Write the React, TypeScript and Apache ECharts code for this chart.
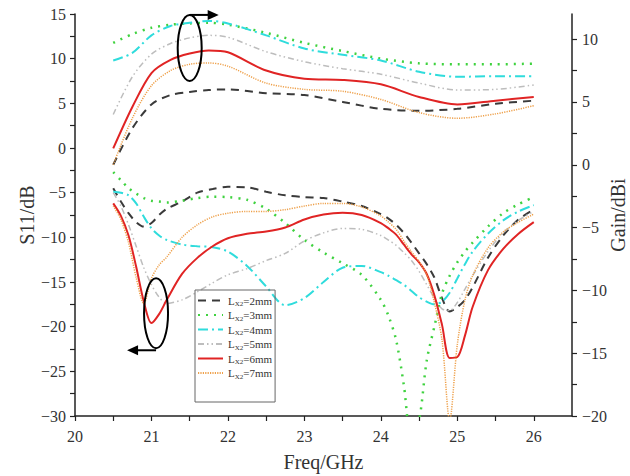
import React, { useEffect, useRef } from 'react';
import * as echarts from 'echarts';

// Legend labels (L_X2 values)
const lengths = ['2mm', '3mm', '4mm', '5mm', '6mm', '7mm'];

// Gain (right axis, dBi)
const gainFreq = [20.5, 20.75, 21, 21.25, 21.5, 21.75, 22, 22.5, 23, 23.5, 24, 24.5, 25, 25.5, 26];
const gain2mm = [0.0, 2.9, 4.8, 5.55, 5.8, 5.95, 6.0, 5.7, 5.55, 5.0, 4.45, 4.3, 4.45, 4.85, 5.1];
const gain3mm = [9.7, 10.4, 10.9, 11.15, 11.25, 11.3, 11.15, 10.5, 9.7, 9.05, 8.45, 8.07, 8.0, 8.0, 8.05];
const gain4mm = [8.3, 8.9, 10.3, 11.05, 11.3, 11.45, 11.25, 10.3, 9.25, 8.75, 8.3, 7.4, 7.0, 7.05, 7.05];
const gain5mm = [4.0, 7.0, 8.8, 9.65, 10.1, 10.3, 10.15, 9.0, 8.2, 7.65, 7.2, 6.5, 5.95, 6.0, 6.35];
const gain6mm = [1.3, 4.6, 7.3, 8.35, 8.85, 9.1, 8.95, 7.5, 6.85, 6.75, 6.4, 5.4, 4.8, 5.1, 5.4];
const gain7mm = [0.0, 3.7, 6.3, 7.5, 8.0, 8.1, 7.85, 6.5, 6.0, 5.85, 5.2, 4.15, 3.7, 4.05, 4.7];

// S11 (left axis, dB)
const s11Freq = [20.5, 20.6, 20.7, 20.8, 20.9, 21.0, 21.1, 21.2, 21.4, 21.6, 21.8, 22.0, 22.25, 22.5, 22.75, 23.0, 23.25, 23.5, 23.75, 24.0, 24.1, 24.2, 24.3, 24.4, 24.5, 24.6, 24.7, 24.8, 24.9, 25.0, 25.1, 25.2, 25.4, 25.6, 25.8, 26.0];
const s11_2mm = [-4.5, -6.0, -7.3, -8.3, -8.8, -8.4, -7.5, -6.8, -6.0, -5.0, -4.6, -4.35, -4.4, -4.9, -5.3, -5.5, -5.6, -6.0, -6.5, -7.4, -7.9, -8.6, -9.5, -10.6, -11.8, -13.0, -14.5, -16.8, -18.3, -17.8, -17.0, -15.6, -12.3, -9.8, -8.0, -6.9];
const s11_3mm = [-2.7, -3.6, -4.5, -5.1, -5.6, -5.9, -6.0, -6.1, -5.9, -5.6, -5.45, -5.5, -5.8, -6.8, -8.4, -10.3, -11.7, -12.9, -14.2, -17.0, -18.8, -21.5, -26.5, -32.5, -30.5, -23.8, -20.0, -16.3, -14.3, -12.8, -11.6, -10.6, -8.8, -7.3, -6.3, -5.5];
const s11_4mm = [-4.9, -5.0, -5.3, -6.2, -7.7, -9.0, -9.8, -10.3, -10.8, -11.0, -11.1, -11.6, -13.2, -15.5, -17.6, -16.8, -15.0, -13.4, -13.2, -13.9, -14.3, -14.8, -15.3, -16.0, -16.7, -17.2, -17.5, -17.2, -16.2, -14.6, -13.0, -11.6, -9.6, -8.1, -7.1, -6.4];
const s11_5mm = [-5.0, -6.5, -8.6, -11.0, -13.4, -15.3, -16.7, -17.4, -17.0, -16.1, -15.1, -14.2, -13.5, -12.6, -11.8, -10.4, -9.5, -9.0, -9.1, -9.8, -10.3, -10.9, -11.7, -12.6, -13.8, -15.3, -16.8, -18.0, -18.2, -17.3, -15.8, -14.3, -11.6, -9.5, -8.1, -7.1];
const s11_6mm = [-6.2, -7.6, -9.8, -13.3, -17.2, -19.6, -18.6, -17.0, -14.1, -12.3, -11.0, -10.1, -9.6, -9.35, -8.9, -8.0, -7.45, -7.25, -7.5, -8.4, -9.0, -9.7, -10.8, -11.9, -12.8, -14.1, -16.5, -19.8, -23.5, -23.4, -21.0, -17.8, -13.7, -11.3, -9.6, -8.3];
const s11_7mm = [-6.5, -8.0, -10.6, -14.5, -17.4, -14.6, -13.1, -12.2, -10.0, -8.6, -7.7, -7.3, -7.1, -7.1, -6.9, -6.5, -6.2, -6.2, -6.6, -7.6, -8.3, -9.1, -10.4, -11.6, -12.7, -14.2, -17.3, -21.5, -30.5, -22.0, -17.0, -14.3, -11.2, -9.4, -8.3, -7.4];

const gainSets = [gain2mm, gain3mm, gain4mm, gain5mm, gain6mm, gain7mm];
const s11Sets = [s11_2mm, s11_3mm, s11_4mm, s11_5mm, s11_6mm, s11_7mm];

// Axis tick values
const leftLabels = [-30, -25, -20, -15, -10, -5, 0, 5, 10, 15];
const rightLabels = [-20, -15, -10, -5, 0, 5, 10];
const rightTicks = [-20, -17.5, -15, -12.5, -10, -7.5, -5, -2.5, 0, 2.5, 5, 7.5, 10];

const lineStyles = [
  { color: '#3a3a3a', width: 2, type: [8, 6] },
  { color: '#3fd23f', width: 2.5, type: [2, 6] },
  { color: '#2fdcdc', width: 2, type: [10, 4, 2, 4] },
  { color: '#bdbdbd', width: 1.5, type: [6, 3, 1.5, 3, 1.5, 3] },
  { color: '#e02424', width: 2, type: 'solid' },
  { color: '#eea04a', width: 1.5, type: [1.2, 1.2] },
];

const SERIF = '"Liberation Serif", "DejaVu Serif", serif';
const minus = (v: number) => (v < 0 ? '\u2212' + Math.abs(v) : String(v));

export default function App() {
  const ref = useRef<HTMLDivElement>(null);
  useEffect(() => {
    if (!ref.current) return;
    const chart = echarts.init(ref.current, undefined, { renderer: 'svg' });
    const series: any[] = [];
    lengths.forEach((len, i) => {
      const name = 'LX2=' + len;
      series.push({
        name, type: 'line', xAxisIndex: 0, yAxisIndex: 0, smooth: 0.3,
        symbol: 'none', showSymbol: false, clip: true,
        itemStyle: { color: lineStyles[i].color, opacity: 0 },
        lineStyle: lineStyles[i],
        data: s11Freq.map((f, j) => [f, s11Sets[i][j]]),
      });
      series.push({
        name, type: 'line', xAxisIndex: 0, yAxisIndex: 1, smooth: 0.3,
        symbol: 'none', showSymbol: false, clip: true,
        itemStyle: { color: lineStyles[i].color, opacity: 0 },
        lineStyle: lineStyles[i],
        data: gainFreq.map((f, j) => [f, gainSets[i][j]]),
      });
    });
    const axisLine = { show: true, onZero: false, lineStyle: { color: '#222', width: 1.5 } };
    chart.setOption({
      animation: false,
      backgroundColor: '#fff',
      grid: { left: 75, right: 58, top: 14, bottom: 60, containLabel: false, outerBoundsMode: 'none' },
      legend: {
        orient: 'vertical', left: 195, top: 290,
        padding: [5, 3, 22, 2], itemGap: 2, itemWidth: 25, itemHeight: 10,
        borderColor: '#666', borderWidth: 1,
        itemStyle: { opacity: 0 },
        data: lengths.map((l) => 'LX2=' + l),
        formatter: (n: string) => '{l|L}{s|X2}{l|' + n.slice(3) + '}',
        textStyle: {
          fontFamily: SERIF, fontSize: 11, color: '#333',
          rich: {
            l: { fontFamily: SERIF, fontSize: 11, lineHeight: 14, color: '#333' },
            s: { fontFamily: SERIF, fontSize: 7, lineHeight: 8, verticalAlign: 'bottom', color: '#333' },
          },
        },
      },
      xAxis: {
        type: 'value', min: 20, max: 26.5, interval: 0.5,
        name: 'Freq/GHz', nameLocation: 'middle', nameGap: 36,
        nameTextStyle: { fontFamily: SERIF, fontSize: 20, color: '#333' },
        axisLine, splitLine: { show: false },
        axisTick: { show: true, length: 5, lineStyle: { color: '#222', width: 1.2 } },
        axisLabel: {
          fontFamily: SERIF, fontSize: 16, color: '#333', margin: 12, showMaxLabel: false,
          formatter: (v: number) => (Number.isInteger(v) ? String(v) : ''),
        },
      },
      yAxis: [
        {
          type: 'value', position: 'left', min: -30, max: 15, interval: 2.5,
          name: 'S11/dB', nameLocation: 'middle', nameGap: 38, nameRotate: 90, nameMoveOverlap: false,
          nameTextStyle: { fontFamily: SERIF, fontSize: 20, color: '#333' },
          axisLine, splitLine: { show: false },
          axisTick: { show: true, length: 5, lineStyle: { color: '#222', width: 1.2 } },
          axisLabel: {
            fontFamily: SERIF, fontSize: 16, color: '#333', margin: 9,
            formatter: (v: number) => (leftLabels.includes(v) ? minus(v) : ''),
          },
        },
        {
          type: 'value', position: 'right', min: -20, max: 12,
          name: 'Gain/dBi', nameLocation: 'middle', nameGap: 36, nameRotate: 90, nameMoveOverlap: false,
          nameTextStyle: { fontFamily: SERIF, fontSize: 20, lineHeight: 20, color: '#333' },
          axisLine, splitLine: { show: false },
          axisTick: { show: true, length: 5, customValues: rightTicks, lineStyle: { color: '#222', width: 1.2 } },
          axisLabel: {
            fontFamily: SERIF, fontSize: 16, color: '#333', margin: 10,
            customValues: rightLabels, formatter: (v: number) => minus(v),
          },
        },
      ],
      series,
    });

    const px = (f: number, v: number, yi: number) =>
      chart.convertToPixel({ xAxisIndex: 0, yAxisIndex: yi } as any, [f, v]) as number[];
    const top = px(21.5, 9.3, 1);
    const bot = px(21.06, -18.5, 0);
    const topRy = 33, botRy = 35, rx = 12;
    const ty = top[1] - topRy;
    const by = bot[1] + botRy + 2;
    chart.setOption({
      graphic: [
        { type: 'ellipse', shape: { cx: top[0], cy: top[1], rx, ry: topRy }, style: { fill: 'none', stroke: '#000', lineWidth: 2 }, z: 100 },
        { type: 'line', shape: { x1: top[0], y1: ty, x2: top[0] + 20, y2: ty }, style: { stroke: '#000', lineWidth: 2 }, z: 100 },
        { type: 'polygon', shape: { points: [[top[0] + 18, ty - 5], [top[0] + 29, ty], [top[0] + 18, ty + 5]] }, style: { fill: '#000' }, z: 100 },
        { type: 'ellipse', shape: { cx: bot[0], cy: bot[1], rx, ry: botRy }, style: { fill: 'none', stroke: '#000', lineWidth: 2 }, z: 100 },
        { type: 'line', shape: { x1: bot[0], y1: by, x2: bot[0] - 20, y2: by }, style: { stroke: '#000', lineWidth: 2 }, z: 100 },
        { type: 'polygon', shape: { points: [[bot[0] - 18, by - 5], [bot[0] - 29, by], [bot[0] - 18, by + 5]] }, style: { fill: '#000' }, z: 100 },
      ],
    });
    return () => chart.dispose();
  }, []);
  return <div ref={ref} style={{ position: 'fixed', left: 0, top: 0, width: 630, height: 476 }} />;
}
